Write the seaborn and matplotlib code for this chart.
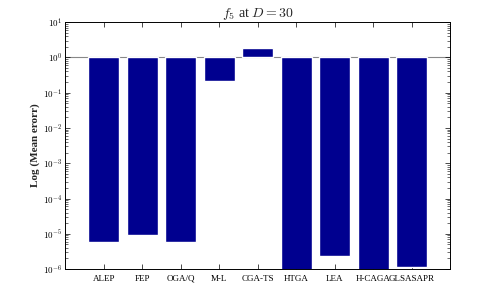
import numpy as np
import pandas as pd
import seaborn as sns
import matplotlib.pyplot as plt
from matplotlib.ticker import FixedLocator, NullFormatter

# data (mean error, log axis, bars hang from 1e0)
algorithms = ["ALEP", "FEP", "OGA/Q", "M-L", "CGA-TS",
              "HTGA", "LEA", "H-CAGA", "GLSASAPR"]
mean_error = [5.7e-6, 9.1e-6, 5.7e-6, 0.21, 1.87,
              8e-7, 2.3e-6, 8e-7, 1.15e-6]
decades = list(range(-6, 2))

df = pd.DataFrame({"alg": algorithms,
                   "logerr": np.log10(mean_error)})

sns.set_theme(style="white")
plt.rcParams["font.family"] = ["Liberation Serif", "DejaVu Serif"]
plt.rcParams["mathtext.fontset"] = "cm"

f, ax = plt.subplots(figsize=(4.98, 3.03), dpi=100)
f.subplots_adjust(left=0.131, right=0.904, top=0.927, bottom=0.112)

sns.barplot(data=df, x="alg", y="logerr", color="#00008F",
            saturation=1, width=0.8, ax=ax)

ax.axhline(0, color="#888888", lw=0.8, zorder=0)
ax.set_xlim(-1, 9)
ax.set_ylim(-6, 1)

# log-style ticks
ax.set_yticks(decades)
ax.set_yticklabels(["$10^{%d}$" % d for d in decades], fontsize=6.5)
minor = [d + np.log10(k) for d in decades[:-1] for k in range(2, 10)]
ax.yaxis.set_minor_locator(FixedLocator(minor))
ax.yaxis.set_minor_formatter(NullFormatter())

ax.tick_params(axis="both", which="both", direction="in",
               top=True, right=True, left=True, bottom=True,
               colors="black", labelcolor="black")
ax.tick_params(which="major", length=3.5, width=0.5)
ax.tick_params(which="minor", length=2, width=0.4)
ax.tick_params(axis="x", labelsize=6.5, pad=4)
ax.tick_params(axis="y", pad=2)

for s in ax.spines.values():
    s.set_color("black")
    s.set_linewidth(0.7)

ax.set_xlabel("")
ax.set_ylabel("Log (Mean erorr)", fontsize=8, fontweight="bold", labelpad=2)
ax.set_title("$f_5$ at $D = 30$", fontsize=10, pad=4)

f.savefig("out.png", dpi=100)
